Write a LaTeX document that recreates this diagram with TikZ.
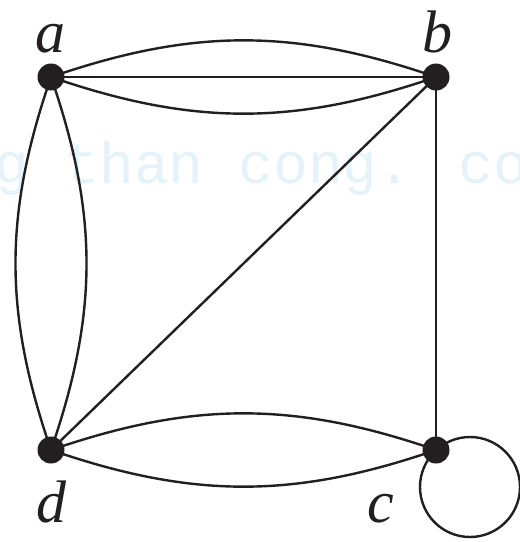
\documentclass[tikz,border=0pt]{standalone}
\usepackage{fontspec}
\setmainfont{Liberation Serif}
\newfontfamily\wmfont{Liberation Mono}
\definecolor{ink}{RGB}{35,31,32}
\definecolor{wm}{RGB}{228,242,250}
\begin{document}
\begin{tikzpicture}[x=1pt,y=-1pt,
  vertex/.style={circle,fill=ink,inner sep=0pt,minimum size=27pt},
  edge/.style={draw=ink,line width=2.4pt},
  lbl/.style={anchor=base,inner sep=0pt,font=\fontsize{60}{60}\selectfont\itshape,text=ink}]
\useasboundingbox (0,0) rectangle (520,542);
\begin{scope}
\clip (0,0) rectangle (520,542);
\node[anchor=base west,inner sep=0pt,text=wm,font=\wmfont\fontsize{58}{58}\selectfont] (wmk) at (-40,183) {ng than cong. co};
\end{scope}
\coordinate (a) at (51,77);
\coordinate (b) at (436,77);
\coordinate (c) at (436,450);
\coordinate (d) at (51,450);
\coordinate (cl) at (470,487);
% edges
\draw[edge] (a) to[bend left=19] (b);
\draw[edge] (a) -- (b);
\draw[edge] (a) to[bend right=19] (b);
\draw[edge] (a) to[bend left=19] (d);
\draw[edge] (a) to[bend right=19] (d);
\draw[edge] (d) to[bend left=19] (c);
\draw[edge] (d) to[bend right=19] (c);
\draw[edge] (b) -- (d);
\draw[edge] (b) -- (c);
\draw[edge] (cl) circle (50);
% vertices
\node[vertex] (na) at (a) {};
\node[vertex] (nb) at (b) {};
\node[vertex] (nc) at (c) {};
\node[vertex] (nd) at (d) {};
% labels
\node[lbl] (la) at (50,52) {a};
\node[lbl] (lb) at (437,52) {b};
\node[lbl] (ld) at (51,522) {d};
\node[lbl] (lc) at (381,522) {c};
\end{tikzpicture}
\end{document}
